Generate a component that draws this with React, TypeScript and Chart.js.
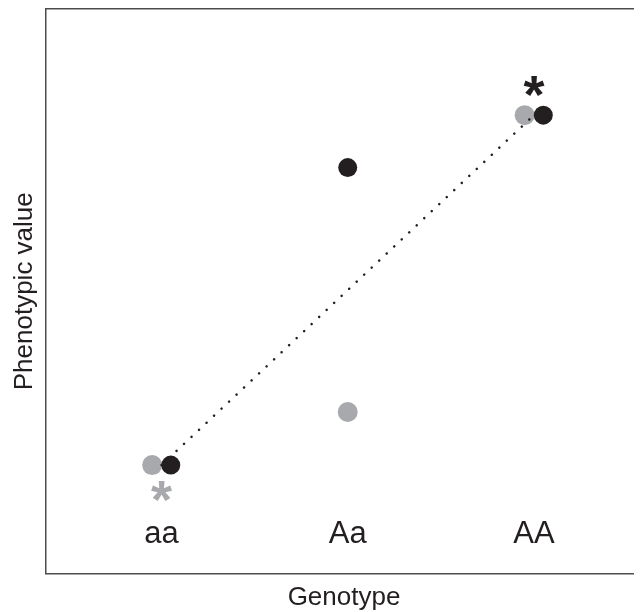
import React, { useEffect, useRef } from "react";
import { Chart, registerables } from "chart.js";

Chart.register(...registerables);

const categories = ["aa", "Aa", "AA"];
const categoryX = [1, 2, 3];
const greyX = [0.95, 2, 2.95];
const greyY = [19.2, 28.6, 81.2];
const blackX = [1.05, 2, 3.05];
const blackY = [19.2, 71.9, 81.2];
const trendX = [1, 3];
const trendY = [19.2, 81.2];
const asteriskX = [1, 3];
const asteriskY = [14.6, 86.3];
const asteriskColors = ["#a7a9ac", "#231f20"];
const labelY = 5.4;

const FONT = "'Liberation Sans', Arial, Helvetica, sans-serif";
const INK = "#231f20";
const GREY = "#a7a9ac";
const AXIS = "#4d4d4d";

const annotations = {
  id: "annotations",
  afterDatasetsDraw(chart: any) {
    const { ctx, scales } = chart;
    const xs = scales.x;
    const ys = scales.y;
    ctx.save();
    ctx.textAlign = "center";
    ctx.textBaseline = "alphabetic";
    ctx.fillStyle = INK;
    ctx.font = `31px ${FONT}`;
    categories.forEach((c, i) => {
      ctx.fillText(c, xs.getPixelForValue(categoryX[i]), ys.getPixelForValue(labelY));
    });
    const size = 54;
    ctx.font = `bold ${size}px ${FONT}`;
    const m = ctx.measureText("*");
    const asc = m.actualBoundingBoxAscent;
    const desc = m.actualBoundingBoxDescent;
    asteriskX.forEach((x, i) => {
      ctx.fillStyle = asteriskColors[i];
      const cy = ys.getPixelForValue(asteriskY[i]);
      ctx.fillText("*", xs.getPixelForValue(x), cy - (desc - asc) / 2);
    });
    ctx.restore();
  },
};

export default function App() {
  const ref = useRef<HTMLCanvasElement | null>(null);
  useEffect(() => {
    if (!ref.current) return;
    const chart = new Chart(ref.current, {
      type: "scatter",
      data: {
        datasets: [
          {
            label: "black",
            data: blackX.map((x, i) => ({ x, y: blackY[i] })),
            backgroundColor: INK,
            borderWidth: 0,
            pointRadius: 9.5,
            order: 0,
          },
          {
            label: "trend",
            type: "line",
            data: trendX.map((x, i) => ({ x, y: trendY[i] })),
            borderColor: INK,
            borderWidth: 2.5,
            borderDash: [0.1, 10.2],
            borderCapStyle: "round",
            pointRadius: 0,
            fill: false,
            order: 1,
          } as any,
          {
            label: "grey",
            data: greyX.map((x, i) => ({ x, y: greyY[i] })),
            backgroundColor: GREY,
            borderWidth: 0,
            pointRadius: 10,
            order: 2,
          },
        ],
      },
      options: {
        animation: false,
        responsive: true,
        maintainAspectRatio: false,
        layout: { autoPadding: false, padding: { top: 1, left: 0, right: 0, bottom: 0 } },
        plugins: { legend: { display: false }, tooltip: { enabled: false } },
        scales: {
          x: {
            type: "linear",
            position: "bottom",
            min: 0.38,
            max: 3.58,
            grid: { display: false, drawTicks: false },
            border: { display: true, color: AXIS, width: 1.5 },
            ticks: { display: false },
            title: {
              display: true,
              text: "Genotype",
              color: INK,
              font: { family: FONT, size: 26, lineHeight: 1 },
              padding: { top: 11.5, bottom: 1 },
            },
          },
          x2: {
            type: "linear",
            position: "top",
            min: 0.38,
            max: 3.58,
            grid: { display: false, drawTicks: false },
            border: { display: true, color: AXIS, width: 1.5 },
            ticks: { display: false },
          },
          y: {
            type: "linear",
            position: "left",
            min: 0,
            max: 100,
            grid: { display: false, drawTicks: false },
            border: { display: true, color: AXIS, width: 1.5 },
            ticks: { display: false },
            title: {
              display: true,
              text: "Phenotypic value",
              color: INK,
              font: { family: FONT, size: 26, lineHeight: 1 },
              padding: { top: 4, bottom: 8 },
            },
          },
        },
      },
      plugins: [annotations],
    });
    return () => chart.destroy();
  }, []);
  return (
    <div style={{ width: 634, height: 604, position: "relative" }}>
      <canvas ref={ref} />
    </div>
  );
}
